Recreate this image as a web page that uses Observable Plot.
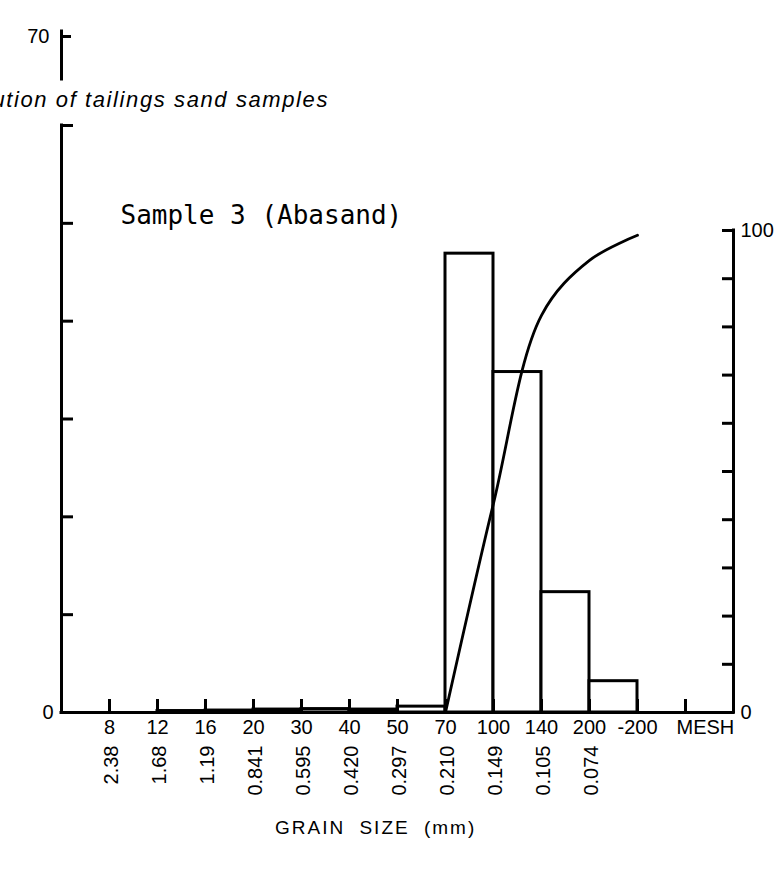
<!DOCTYPE html>
<html>
<head>
<meta charset="utf-8">
<script src="https://cdn.jsdelivr.net/npm/d3@7"></script>
<script src="https://cdn.jsdelivr.net/npm/@observablehq/plot@0.6"></script>
<style>
  html, body { margin: 0; padding: 0; background: #fff; }
  #figure {
    position: relative; width: 775px; height: 881px; overflow: hidden;
    background: #fff; color: #000;
    font-family: "Liberation Sans", Arial, sans-serif;
  }
  #figure > * { position: absolute; left: 0; top: 0; }
  #figure svg { display: block; }
  #title {
    left: auto; right: 446px; top: 89px;
    white-space: nowrap; font-style: italic; font-size: 22px; line-height: 22px;
    letter-spacing: 1.6px;
  }
  #xlabel {
    left: 275px; top: 818px;
    white-space: nowrap; font-size: 19px; line-height: 20px;
    letter-spacing: 2px; word-spacing: 7px;
  }
</style>
</head>
<body>
<div id="figure">
  <div id="main"></div>
  <div id="overlay"></div>
  <div id="upper"></div>
  <div id="title"></div>
  <div id="xlabel"></div>
</div>
<script>
// Sieve (mesh) numbers along the bottom, and the matching openings in mm
const meshLabels = ["8", "12", "16", "20", "30", "40", "50", "70", "100", "140", "200", "-200"];
const meshUnit = "MESH";
const grainSizes = ["2.38", "1.68", "1.19", "0.841", "0.595", "0.420", "0.297", "0.210", "0.149", "0.105", "0.074"];

// Weight % in each size class, between consecutive sieves (left axis)
const retainedPct = [0, 0.15, 0.2, 0.3, 0.35, 0.3, 0.6, 46.9, 34.8, 12.3, 3.2];

// Cumulative weight % (right axis), read at these sieves
const cumulativeMesh = ["70", "100", "140", "200", "-200"];
const cumulativePct = [0, 43.4, 82.4, 93.8, 99];

// Axis ticks
const leftTicks = [0, 10, 20, 30, 40, 50, 60];
const rightTicks = [0, 10, 20, 30, 40, 50, 60, 70, 80, 90, 100];
const upperPanelTicks = [70];

// Texts
const sampleName = "Sample 3 (Abasand)";
const figureTitle = "Size distribution of tailings sand samples";
const xAxisLabel = "GRAIN SIZE (mm)";

// Mesh positions: one slot per sieve, plus one for the MESH unit tick
const meshIndex = d3.range(meshLabels.length + 1);
const xDomain = [-1, meshLabels.length + 1];

const bars = retainedPct
  .map((pct, i) => ({from: i, to: i + 1, pct}))
  .filter(d => d.pct > 0);

const cumulative = cumulativePct.map((pct, i) => ({
  mesh: meshLabels.indexOf(cumulativeMesh[i]),
  pct
}));

const baseStyle = {
  fontFamily: "'Liberation Sans', Arial, sans-serif",
  fontSize: "20px",
  color: "black",
  overflow: "visible"
};
const ink = {stroke: "black", strokeWidth: 3};
const frame = {width: 775, marginLeft: 61, marginRight: 42};

// Histogram, left axis and the two rows of sieve labels
const main = Plot.plot({
  ...frame,
  height: 881,
  marginTop: 125,
  marginBottom: 169,
  x: {domain: xDomain, axis: null},
  y: {domain: [0, 60], axis: null},
  style: {...baseStyle, background: "white"},
  marks: [
    Plot.rect(bars, {x1: "from", x2: "to", y1: 0, y2: "pct", fill: "white", ...ink, strokeLinejoin: "miter"}),
    Plot.ruleY([0], {...ink, strokeLinecap: "square"}),
    Plot.ruleX([xDomain[0]], {...ink, strokeLinecap: "square"}),
    Plot.axisY({
      anchor: "left", ticks: leftTicks, tickSize: -12, tickPadding: 20, label: null,
      strokeWidth: 3, tickFormat: d => (d === 0 ? "0" : ""), fontSize: 20
    }),
    Plot.axisX({
      anchor: "bottom", ticks: meshIndex, tickSize: -13, label: null,
      strokeWidth: 3, tickFormat: () => ""
    }),
    Plot.text(meshLabels, {x: (d, i) => i, frameAnchor: "bottom", dy: 21, fontSize: 20}),
    Plot.text([meshUnit], {x: () => meshLabels.length, frameAnchor: "bottom", dy: 21, dx: -9, textAnchor: "start", fontSize: 20}),
    Plot.text(grainSizes, {
      x: (d, i) => i, frameAnchor: "bottom", dy: 33, dx: 2,
      rotate: -90, textAnchor: "end", lineAnchor: "middle", fontSize: 20
    }),
    Plot.text([sampleName], {
      frameAnchor: "top-left", dx: 59, dy: 90, textAnchor: "start", lineAnchor: "middle",
      fontFamily: "'DejaVu Sans Mono', monospace", fontSize: 26
    })
  ]
});

// Cumulative curve against the right-hand 0–100 axis
const overlay = Plot.plot({
  ...frame,
  height: 881,
  marginTop: 230,
  marginBottom: 169,
  x: {domain: xDomain, axis: null},
  y: {domain: [0, 100], axis: null},
  style: {...baseStyle, background: "transparent"},
  marks: [
    Plot.ruleX([xDomain[1]], {...ink, strokeLinecap: "square"}),
    Plot.axisY({
      anchor: "right", ticks: rightTicks, tickSize: -12, tickPadding: 19, label: null,
      strokeWidth: 3, tickFormat: d => (d === 0 || d === 100 ? String(d) : ""), fontSize: 20
    }),
    Plot.line(cumulative, {x: "mesh", y: "pct", curve: "catmull-rom", stroke: "black", strokeWidth: 2.8})
  ]
});

// Foot of the axis of the panel above
const upper = Plot.plot({
  ...frame,
  height: 90,
  marginTop: 31,
  marginBottom: 11,
  x: {domain: xDomain, axis: null},
  y: {domain: [65, 70], axis: null},
  style: {...baseStyle, background: "transparent"},
  marks: [
    Plot.ruleX([xDomain[0]], {...ink, strokeLinecap: "square"}),
    Plot.axisY({
      anchor: "left", ticks: upperPanelTicks, tickSize: -10, tickPadding: 22, label: null,
      strokeWidth: 3, dy: 5, fontSize: 20, tickFormat: d => String(d)
    })
  ]
});

document.getElementById("main").append(main);
document.getElementById("overlay").append(overlay);
document.getElementById("upper").append(upper);
document.getElementById("title").textContent = figureTitle;
document.getElementById("xlabel").textContent = xAxisLabel;
</script>
</body>
</html>
